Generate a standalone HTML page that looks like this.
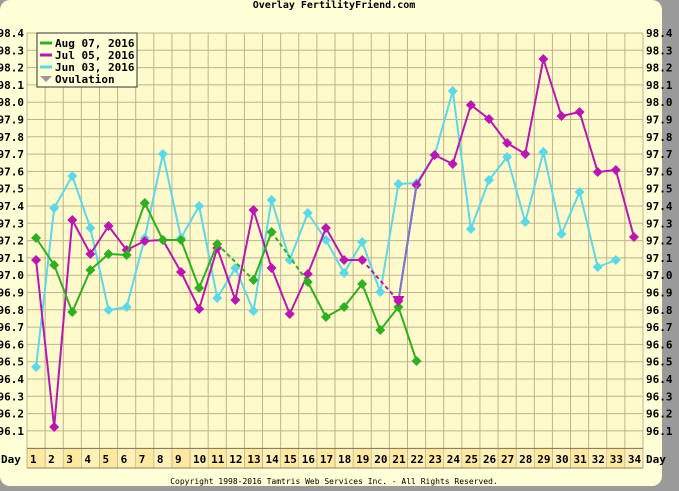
<!DOCTYPE html>
<html><head><meta charset="utf-8"><style>
body{margin:0;background:#fff;}
svg{display:block;font-family:"DejaVu Sans Mono","Liberation Mono",monospace;}
</style></head><body>
<svg id="s" width="679" height="491" xmlns="http://www.w3.org/2000/svg"></svg>
<script>
const s=document.getElementById('s');let h='';
h+='<rect x="0" y="0" width="679" height="491" fill="#9a9a9a"/>';
h+='<rect x="0" y="0" width="662" height="486" rx="10" fill="#ffffd8"/>';
const L=27,R=643,T=33,CW=(R-L)/34,PY=17.3;
const X=d=>L+CW*(d-0.5);
h+=`<rect x="${L}" y="${T}" width="${R-L}" height="${448-T}" fill="#fffacc"/>`;
for(let i=0;i<=24;i++){const y=T+i*PY;h+=`<line x1="${L}" x2="${R}" y1="${y}" y2="${y}" stroke="#bcb48c"/>`;
 if(i<24){const t=(98.4-i*0.1).toFixed(1);h+=`<text x="${L-3}" y="${y+4}" font-size="11" font-weight="bold" text-anchor="end">${t}</text><text x="${R+3}" y="${y+4}" font-size="11" font-weight="bold">${t}</text>`;}}
for(let d=0;d<=34;d++){const x=L+d*CW;h+=`<line x1="${x}" x2="${x}" y1="${T}" y2="468" stroke="#bcb48c"/>`;}
for(let d=1;d<=34;d++){const x=L+(d-1)*CW;h+=`<rect x="${x+0.5}" y="449" width="${CW-1}" height="19" fill="${d%2?'#ffe8a0':'#fff0b8'}"/><text x="${x+3}" y="463" font-size="11" font-weight="bold">${d}</text>`;}
h+=`<line x1="${L}" x2="${R}" y1="448.5" y2="448.5" stroke="#8a8060"/><line x1="${L}" x2="${R}" y1="468" y2="468" stroke="#8a8060"/>`;
h+=`<text x="1" y="463" font-size="11" font-weight="bold">Day</text><text x="${R+3}" y="463" font-size="11" font-weight="bold">Day</text>`;
h+=`<text x="334" y="8" font-size="10" font-weight="bold" text-anchor="middle">Overlay FertilityFriend.com</text>`;
h+=`<text x="334" y="484" font-size="8" text-anchor="middle">Copyright 1998-2016 Tamtris Web Services Inc. - All Rights Reserved.</text>`;
function ser(pts,col,dash){
 let segs='';for(let i=1;i<pts.length;i++){const a=pts[i-1],b=pts[i];const dashed=b[0]-a[0]>1;
 segs+=`<line x1="${X(a[0])}" y1="${a[1]}" x2="${X(b[0])}" y2="${b[1]}" stroke="${col}" stroke-width="2" ${dashed?'stroke-dasharray="4,3"':''}/>`;}
 let dots='';pts.forEach(p=>{const x=X(p[0]),y=p[1];dots+=`<polygon points="${x},${y-5} ${x+5},${y} ${x},${y+5} ${x-5},${y}" fill="${col}"/>`;});
 return segs+dots;}
const cy=[[1,367],[2,208],[3,176],[4,228],[5,310],[6,307],[7,238],[8,154],[9,238],[10,206],[11,298],[12,268],[13,311],[14,200],[15,260],[16,213],[17,240],[18,273],[19,242],[20,292],[21,184],[22,183],[23,155],[24,91],[25,229],[26,180],[27,157],[28,222],[29,152],[30,234],[31,192],[32,267],[33,260]];
const mg=[[1,260],[2,427],[3,220],[4,254],[5,226],[6,250],[7,241],[8,240],[9,272],[10,309],[11,248],[12,300],[13,210],[14,268],[15,314],[16,274],[17,228],[18,260],[19,260],[21,301],[22,185],[23,155],[24,164],[25,105],[26,119],[27,143],[28,154],[29,59],[30,116],[31,112],[32,172],[33,170],[34,237]];
const gr=[[1,238],[2,265],[3,312],[4,270],[5,254],[6,255],[7,203],[8,240],[9,240],[10,288],[11,244],[13,280],[14,232],[16,282],[17,317],[18,307],[19,284],[20,330],[21,307],[22,361]];
h+=ser(cy,'#5cd8e8')+ser(mg,'#b818b0')+ser(gr,'#30b020');
h+=`<line x1="${X(21)}" y1="301" x2="${X(22)}" y2="185" stroke="#7878d0" stroke-width="2"/>`;
const ox=X(21);h+=`<polygon points="${ox-6},296 ${ox+6},296 ${ox},307" fill="#b818b0"/>`;
h+=`<rect x="37" y="33" width="100" height="54" fill="#ffffd8" stroke="#333"/>`;
const lg=[['#30b020','Aug 07, 2016'],['#b818b0','Jul 05, 2016'],['#5cd8e8','Jun 03, 2016']];
lg.forEach((l,i)=>{const y=43+i*12;h+=`<line x1="40" x2="52" y1="${y}" y2="${y}" stroke="${l[0]}" stroke-width="3"/><text x="55" y="${y+4}" font-size="11" font-weight="bold">${l[1]}</text>`;});
h+=`<polygon points="40,76 52,76 46,82" fill="#999"/><text x="55" y="83" font-size="11" font-weight="bold">Ovulation</text>`;
s.innerHTML=h;
</script>
</body></html>
